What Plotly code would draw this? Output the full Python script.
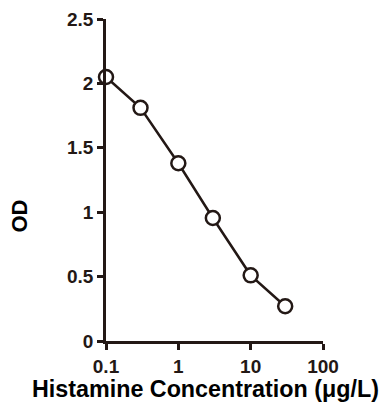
import plotly.graph_objects as go

conc = [0.1, 0.3, 1, 3, 10, 30]
od = [2.05, 1.81, 1.38, 0.955, 0.51, 0.27]
x_ticks = [0.1, 1, 10, 100]
x_tick_labels = ["0.1", "1", "10", "100"]
y_ticks = [0, 0.5, 1, 1.5, 2, 2.5]
y_tick_labels = ["0", "0.5", "1", "1.5", "2", "2.5"]
x_title = "Histamine Concentration (μg/L)"
y_title = "OD"

dark = "#231815"
font_family = "Liberation Sans, Arial, sans-serif"

fig = go.Figure(go.Scatter(
    x=conc, y=od, mode="lines+markers",
    line=dict(color=dark, width=2.5),
    marker=dict(symbol="circle", size=14, color="white", line=dict(color=dark, width=2.5)),
    cliponaxis=False,
))

fig.update_layout(
    width=387, height=403,
    margin=dict(l=98, r=72, t=11, b=70),
    plot_bgcolor="white", paper_bgcolor="white",
    showlegend=False,
    font=dict(family=font_family, color=dark),
)
fig.update_xaxes(
    type="log", range=[-1, 2], automargin=False,
    tickvals=x_ticks, ticktext=x_tick_labels,
    showline=True, linecolor=dark, linewidth=2.5,
    ticks="outside", ticklen=6, tickwidth=2.5, tickcolor=dark,
    showgrid=False, zeroline=False,
    tickfont=dict(size=19, family=font_family, color=dark, weight="bold"),
)
fig.update_yaxes(
    range=[0, 2.5], automargin=False,
    tickvals=y_ticks, ticktext=y_tick_labels,
    showline=True, linecolor=dark, linewidth=2.5,
    ticks="outside", ticklen=6, tickwidth=2.5, tickcolor=dark,
    showgrid=False, zeroline=False,
    tickfont=dict(size=19, family=font_family, color=dark, weight="bold"),
)
fig.add_annotation(
    text=f"<b>{x_title}</b>", xref="paper", yref="paper", x=0.458, y=0,
    xanchor="center", yanchor="middle", yshift=-48, showarrow=False,
    font=dict(size=23.3, color="black", family=font_family),
)
fig.add_annotation(
    text=f"<b>{y_title}</b>", xref="paper", yref="paper", x=0, y=0.388,
    xanchor="center", yanchor="middle", xshift=-86.5, textangle=-90, showarrow=False,
    font=dict(size=22, color="black", family=font_family),
)

fig.write_html("out.html")
